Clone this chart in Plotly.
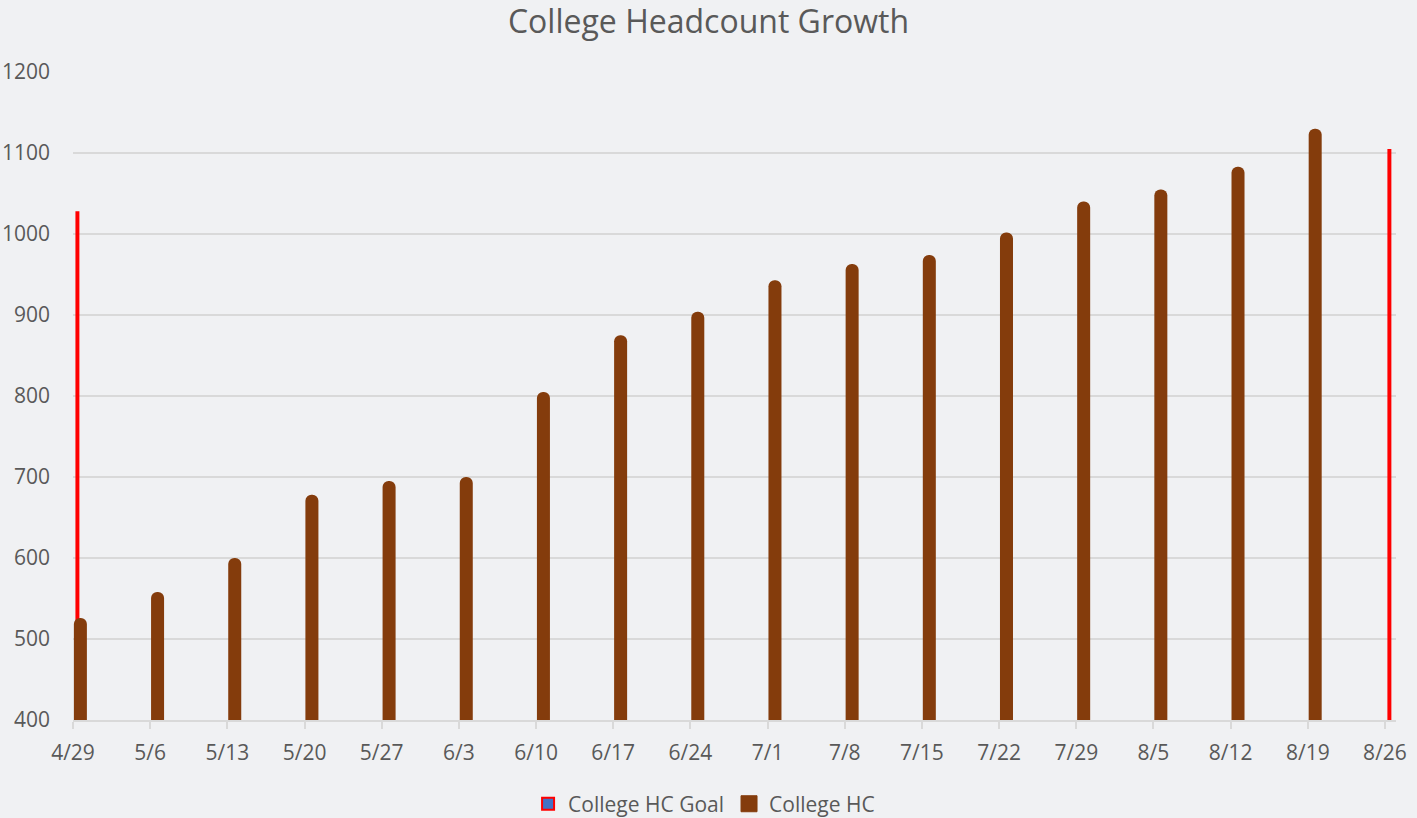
import plotly.graph_objects as go

# ---- data ----
week_labels = ["4/29", "5/6", "5/13", "5/20", "5/27", "6/3", "6/10", "6/17", "6/24",
               "7/1", "7/8", "7/15", "7/22", "7/29", "8/5", "8/12", "8/19", "8/26"]
week_dates = ["2019-04-29", "2019-05-06", "2019-05-13", "2019-05-20", "2019-05-27",
              "2019-06-03", "2019-06-10", "2019-06-17", "2019-06-24", "2019-07-01",
              "2019-07-08", "2019-07-15", "2019-07-22", "2019-07-29", "2019-08-05",
              "2019-08-12", "2019-08-19", "2019-08-26"]
college_hc = [526, 558, 600, 678, 695, 700, 805, 875, 904, 943, 963, 974, 1002,
              1040, 1055, 1083, 1130, None]
college_hc_goal = [1028, None, None, None, None, None, None, None, None, None, None,
                   None, None, None, None, None, None, 1105]

DAY = 86400000
grey = "#595959"
grid = "#D9D9D9"
brown = "#843C0C"

fig = go.Figure()

fig.add_trace(go.Bar(
    x=week_dates, y=college_hc_goal, name="College HC Goal",
    marker=dict(color="#FF0000", line=dict(width=0)),
    width=0.36 * DAY, offset=0.22 * DAY, showlegend=False, hoverinfo="skip"))

fig.add_trace(go.Bar(
    x=week_dates, y=college_hc, name="College HC",
    marker=dict(color=brown, line=dict(width=0), cornerradius=6),
    width=1.18 * DAY, offset=0.08 * DAY, showlegend=False))

# legend-only traces
fig.add_trace(go.Scatter(
    x=[None], y=[None], mode="markers", name="College HC Goal",
    marker=dict(symbol="square", size=12, color="#4472C4",
                line=dict(color="#FF0000", width=2))))
fig.add_trace(go.Scatter(
    x=[None], y=[None], mode="markers", name="College HC",
    marker=dict(symbol="square", size=16, color=brown,
                line=dict(color=brown, width=1))))

fig.update_layout(
    width=1417, height=818,
    paper_bgcolor="#F0F1F3", plot_bgcolor="#F0F1F3",
    margin=dict(l=73, r=21, t=72, b=98, autoexpand=False),
    barmode="overlay",
    font=dict(family="Open Sans", color=grey, size=21),
    title=dict(text="College Headcount Growth", x=0.5, xanchor="center",
               yref="container", y=0.973, yanchor="middle",
               font=dict(size=32, color=grey)),
    xaxis=dict(
        type="date", automargin=False,
        range=["2019-04-29", "2019-08-27"],
        tickvals=week_dates, ticktext=week_labels,
        showgrid=False, showline=True, linecolor=grid, linewidth=1.5,
        ticks="outside", ticklen=7, tickcolor=grid, tickwidth=1.5,
        ticklabelstandoff=6,
        tickfont=dict(size=21, color=grey), zeroline=False),
    yaxis=dict(
        automargin=False,
        range=[400, 1200], dtick=100, tick0=400,
        showgrid=True, gridcolor=grid, gridwidth=1.5,
        showline=False, zeroline=False, ticks="",
        ticklabelstandoff=22,
        tickfont=dict(size=21, color=grey)),
    legend=dict(orientation="h", x=0.477, xanchor="center",
                yref="container", y=0.017, yanchor="middle",
                font=dict(size=21, color=grey), bgcolor="rgba(0,0,0,0)",
                itemwidth=30, tracegroupgap=0),
)

fig.write_html("out.html", config={"displayModeBar": False},
               post_script="document.body.style.margin='0';document.body.style.overflow='hidden';")
